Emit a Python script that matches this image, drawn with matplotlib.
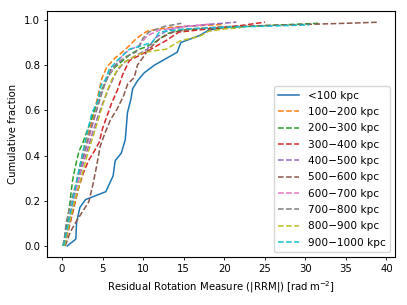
"""Cumulative |RRM| distributions, binned by projected distance."""

import matplotlib

matplotlib.use("Agg")
import matplotlib.pyplot as plt

LABELS = [
    "<100 kpc",
    "100\u2212200 kpc",
    "200\u2212300 kpc",
    "300\u2212400 kpc",
    "400\u2212500 kpc",
    "500\u2212600 kpc",
    "600\u2212700 kpc",
    "700\u2212800 kpc",
    "800\u2212900 kpc",
    "900\u22121000 kpc",
]

# |RRM| values (rad m^-2) and cumulative fraction
RRM_LT100 = [0.65, 1.7, 1.8, 2.2, 2.9, 5.4, 6.3, 6.55, 7.3, 7.8, 8.07, 8.5, 8.7, 9.3,
             10.1, 11.4, 14.2, 14.65, 16.9, 18.1, 20.5]
CUM_LT100 = [0.0, 0.03, 0.105, 0.17, 0.205, 0.24, 0.31, 0.377, 0.41, 0.47, 0.59, 0.65,
             0.695, 0.73, 0.765, 0.80, 0.857, 0.90, 0.93, 0.955, 0.968]

RRM_100 = [0.2, 0.6, 1.0, 1.5, 2.0, 2.5, 2.9, 3.5, 3.95, 4.4, 4.9, 5.5, 6.5, 7.5, 8.3,
           9.1, 10.0, 10.7, 13.6, 17.0, 20.0]
CUM_100 = [0.0, 0.06, 0.13, 0.22, 0.32, 0.40, 0.46, 0.53, 0.59, 0.66, 0.74, 0.79, 0.83,
           0.86, 0.886, 0.916, 0.94, 0.953, 0.968, 0.975, 0.98]

RRM_200 = [0.1, 0.5, 0.9, 1.3, 1.7, 2.1, 2.5, 3.0, 3.6, 4.3, 5.0, 5.7, 6.5, 7.5, 8.5,
           9.5, 10.3, 11.4, 13.0, 15.0, 20.0, 25.0, 31.6]
CUM_200 = [0.0, 0.07, 0.17, 0.29, 0.36, 0.42, 0.45, 0.50, 0.56, 0.63, 0.70, 0.75, 0.79,
           0.82, 0.85, 0.87, 0.88, 0.90, 0.94, 0.955, 0.965, 0.975, 0.985]

RRM_300 = [0.3, 0.8, 1.4, 2.0, 2.6, 3.3, 4.0, 4.6, 5.0, 5.4, 6.1, 6.8, 7.5, 8.3, 10.3,
           12.8, 14.4, 18.0, 22.0, 25.0]
CUM_300 = [0.0, 0.07, 0.16, 0.25, 0.32, 0.38, 0.42, 0.46, 0.52, 0.56, 0.63, 0.687, 0.76,
           0.82, 0.857, 0.908, 0.946, 0.96, 0.975, 0.99]

RRM_400 = [0.2, 0.7, 1.2, 1.8, 2.4, 3.0, 3.6, 4.3, 5.0, 5.8, 6.7, 7.6, 8.5, 9.5, 10.5,
           11.5, 13.0, 15.0, 18.0, 21.5]
CUM_400 = [0.0, 0.08, 0.17, 0.26, 0.34, 0.41, 0.48, 0.56, 0.63, 0.70, 0.77, 0.81, 0.83,
           0.85, 0.87, 0.92, 0.955, 0.97, 0.98, 0.99]

RRM_500 = [0.4, 1.0, 1.7, 2.5, 3.3, 3.8, 4.3, 4.7, 5.3, 6.0, 6.8, 7.6, 8.1, 8.9, 9.3,
           10.7, 12.0, 13.6, 16.0, 20.0, 25.0, 30.0, 35.0, 39.1]
CUM_500 = [0.0, 0.06, 0.105, 0.15, 0.195, 0.27, 0.36, 0.44, 0.50, 0.56, 0.606, 0.665,
           0.717, 0.745, 0.80, 0.87, 0.916, 0.946, 0.96, 0.97, 0.975, 0.98, 0.985, 0.99]

RRM_600 = [0.2, 0.6, 1.1, 1.7, 2.3, 2.9, 3.5, 4.1, 4.7, 5.3, 6.0, 6.8, 7.6, 8.5, 9.5,
           10.5, 12.0, 15.0, 18.5]
CUM_600 = [0.0, 0.07, 0.15, 0.25, 0.34, 0.42, 0.50, 0.58, 0.66, 0.72, 0.77, 0.81, 0.85,
           0.87, 0.886, 0.93, 0.955, 0.97, 0.982]

RRM_700 = [0.2, 0.5, 1.0, 1.6, 2.2, 2.8, 3.4, 4.0, 4.6, 5.3, 6.0, 6.9, 8.0, 9.1, 10.0,
           10.7, 12.5, 14.7]
CUM_700 = [0.0, 0.10, 0.18, 0.26, 0.34, 0.42, 0.50, 0.57, 0.64, 0.72, 0.78, 0.81, 0.84,
           0.857, 0.92, 0.946, 0.97, 0.985]

RRM_800 = [0.3, 0.8, 1.3, 1.9, 2.5, 3.1, 3.7, 4.3, 4.9, 5.5, 6.2, 7.0, 8.0, 9.0, 10.0,
           11.6, 12.8, 14.6, 16.9, 18.1, 20.0, 22.0]
CUM_800 = [0.0, 0.08, 0.16, 0.24, 0.32, 0.40, 0.47, 0.54, 0.61, 0.68, 0.74, 0.79, 0.82,
           0.84, 0.855, 0.865, 0.87, 0.908, 0.926, 0.95, 0.96, 0.965]

RRM_900 = [0.2, 0.6, 1.1, 1.6, 2.1, 2.6, 3.1, 3.7, 4.4, 4.8, 5.4, 5.8, 6.8, 8.3, 11.1,
           12.0, 15.0, 20.0, 25.0, 30.5]
CUM_900 = [0.0, 0.07, 0.16, 0.25, 0.34, 0.42, 0.50, 0.59, 0.64, 0.71, 0.739, 0.78, 0.82,
           0.87, 0.90, 0.946, 0.96, 0.968, 0.972, 0.978]

SERIES = [
    (RRM_LT100, CUM_LT100),
    (RRM_100, CUM_100),
    (RRM_200, CUM_200),
    (RRM_300, CUM_300),
    (RRM_400, CUM_400),
    (RRM_500, CUM_500),
    (RRM_600, CUM_600),
    (RRM_700, CUM_700),
    (RRM_800, CUM_800),
    (RRM_900, CUM_900),
]


def main() -> None:
    fig = plt.figure(figsize=(4.07, 3.05), dpi=100)
    ax = fig.add_axes([0.1155, 0.157, 0.855, 0.807])

    for i, ((xs, ys), label) in enumerate(zip(SERIES, LABELS)):
        ax.plot(xs, ys, color=f"C{i}", linestyle="-" if i == 0 else "--",
                linewidth=1.1, label=label)

    ax.set_xticks(range(0, 45, 5))
    ax.set_xlabel(r"Residual Rotation Measure (|RRM|) [$\mathrm{rad\,m^{-2}}$]", fontsize=7.3)
    ax.set_ylabel("Cumulative fraction", fontsize=7.3)
    ax.tick_params(labelsize=7.3, length=2.5, width=0.6, pad=2.5)
    for s in ax.spines.values():
        s.set_linewidth(0.8)
    ax.legend(loc="lower right", fontsize=7.6, handlelength=2.0, labelspacing=0.6)

    fig.savefig("out.png", dpi=100)


if __name__ == "__main__":
    main()
